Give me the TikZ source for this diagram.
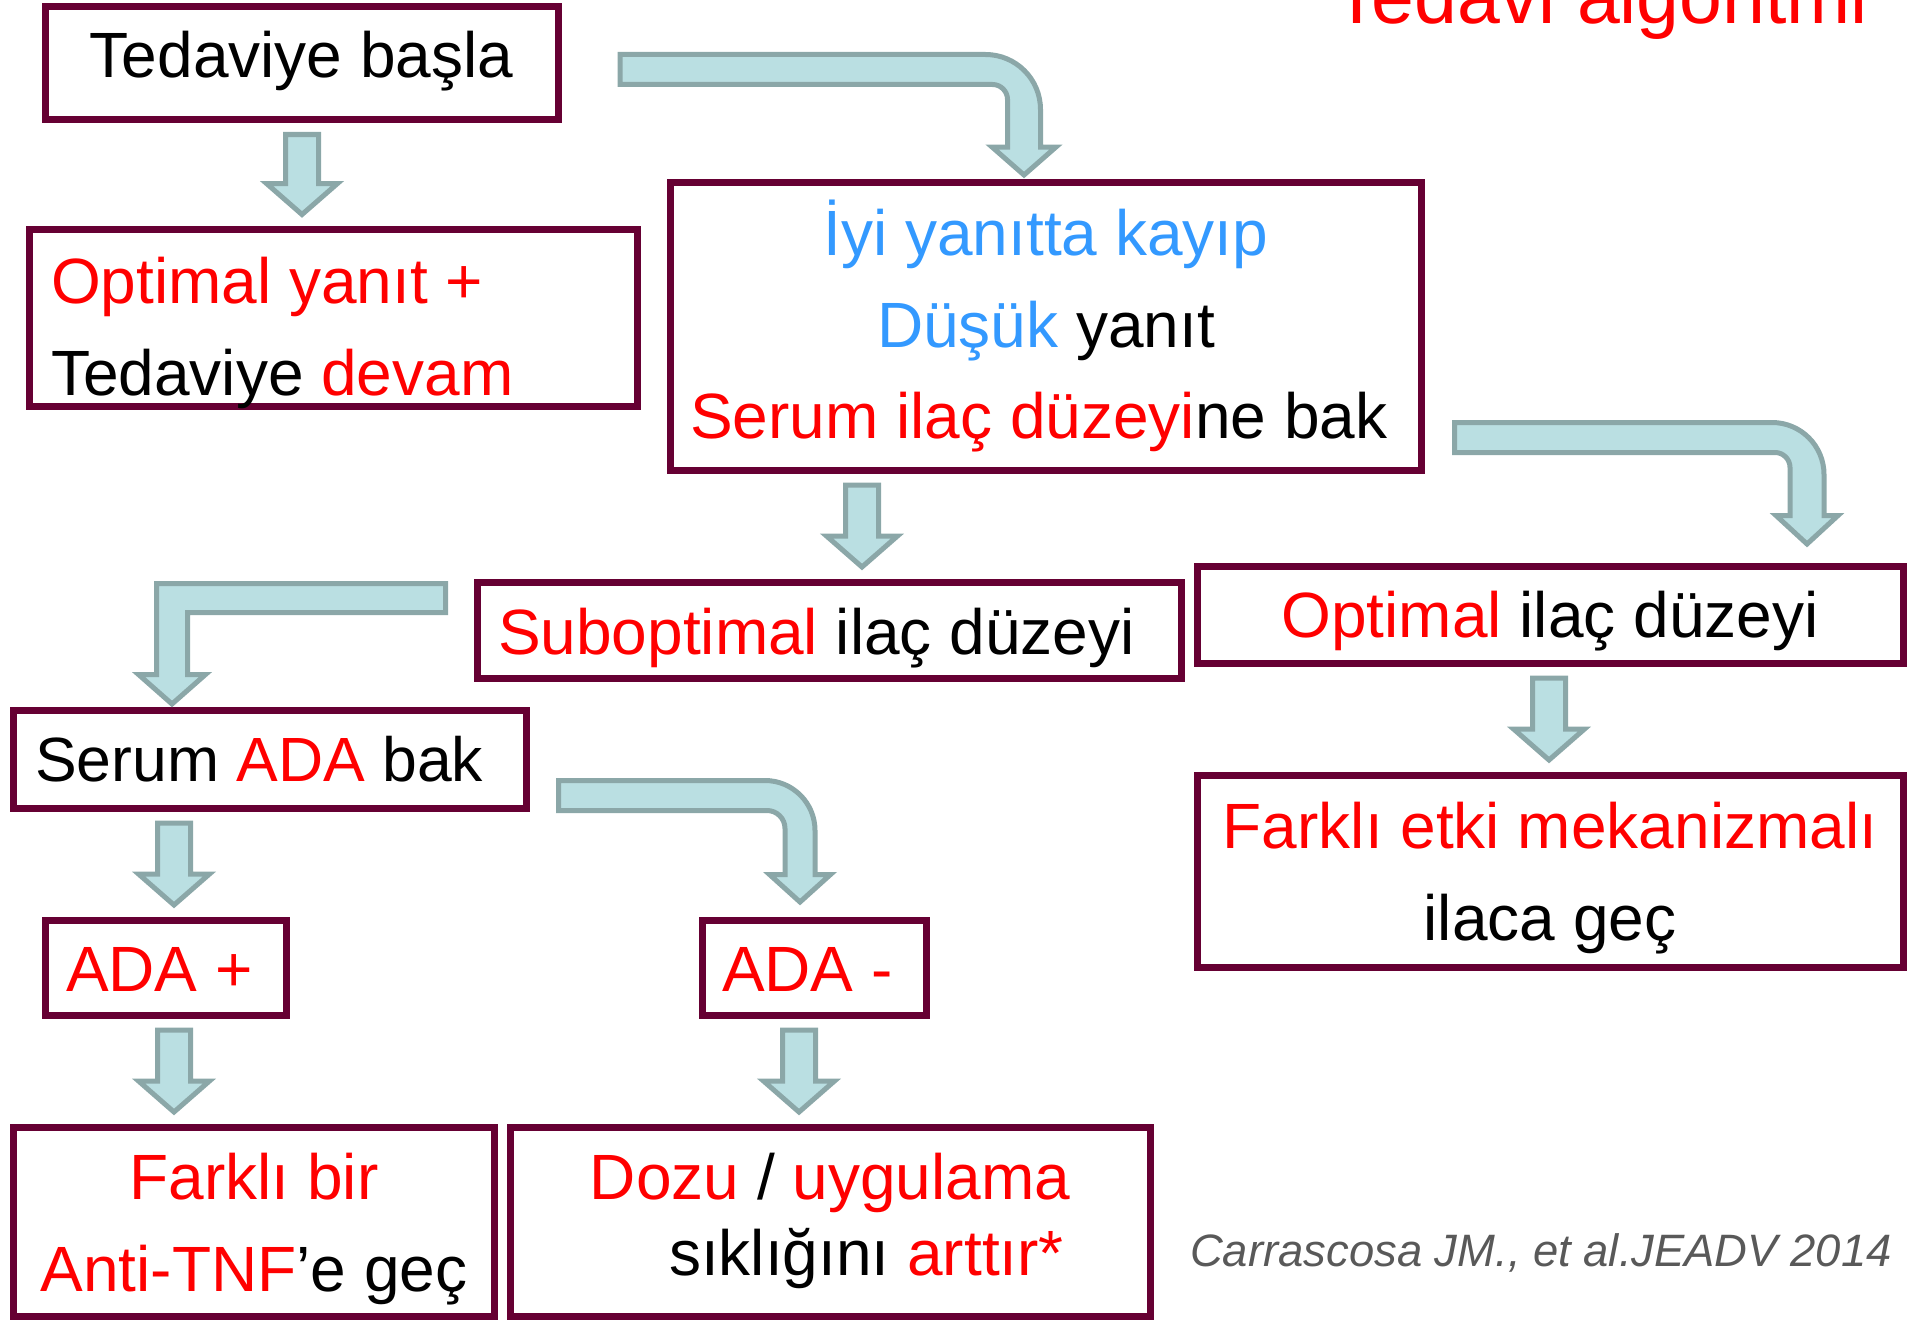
\documentclass[tikz,border=0pt]{standalone}
\usepackage{fontspec}
\setmainfont{Liberation Sans}
\usetikzlibrary{calc}
\definecolor{boxc}{HTML}{660033}
\definecolor{arrfill}{HTML}{BADFE2}
\definecolor{arrline}{HTML}{8BA7A8}
\definecolor{myred}{HTML}{FF0000}
\definecolor{myblue}{HTML}{3399FF}
\definecolor{citec}{HTML}{595959}
\newcommand\R[1]{\textcolor{myred}{#1}}
\newcommand\B[1]{\textcolor{myblue}{#1}}
\tikzset{
  box/.style={draw=boxc, line width=7pt, rectangle, inner sep=0pt, outer sep=0pt},
  txt/.style={inner sep=0pt, outer sep=0pt, font=\fontsize{64}{76}\selectfont, text=black},
  barrow/.style={fill=arrfill, draw=arrline, line width=5pt, line join=miter},
}
% straight down block arrow: #1 top-centre, #2 tip
\newcommand\downarr[2]{%
  \draw[barrow] let \p1=(#1), \p2=(#2) in
    (\x1-16.5pt,\y1) -- (\x1+16.5pt,\y1) -- (\x1+16.5pt,\y2+31pt) -- (\x1+35.5pt,\y2+31pt)
    -- (\x1,\y2) -- (\x1-35.5pt,\y2+31pt) -- (\x1-16.5pt,\y2+31pt) -- cycle;}
% bent block arrow: #1 tail (left end, shaft centre), #2 tip, #3 half shaft height,
% #4 half vertical shaft width, #5 outer radius, #6 inner radius, #7 half head width, #8 head length
\newcommand\bentarr[8]{%
  \draw[barrow] let \p1=(#1), \p2=(#2) in
    (\x1,\y1+#3pt) -- (\x2+#4pt-#5pt,\y1+#3pt)
    .. controls (\x2+#4pt-0.4477*#5pt,\y1+#3pt) and (\x2+#4pt,\y1+#3pt-0.4477*#5pt) .. (\x2+#4pt,\y1+#3pt-#5pt)
    -- (\x2+#4pt,\y2+#8pt) -- (\x2+#7pt,\y2+#8pt) -- (\x2,\y2) -- (\x2-#7pt,\y2+#8pt) -- (\x2-#4pt,\y2+#8pt)
    -- (\x2-#4pt,\y1-#3pt-#6pt)
    .. controls (\x2-#4pt,\y1-#3pt-0.4477*#6pt) and (\x2-#4pt-0.4477*#6pt,\y1-#3pt) .. (\x2-#4pt-#6pt,\y1-#3pt)
    -- (\x1,\y1-#3pt) -- cycle;}
\begin{document}
\begin{tikzpicture}[x=1pt,y=-1pt]
\useasboundingbox (0,0) rectangle (1910,1319);
% boxes
\node[box, minimum width=513, minimum height=113] (b1) at (301.5,63) {};
\node[box, minimum width=608, minimum height=176.5] (b2) at (333,317.75) {};
\node[box, minimum width=751, minimum height=288] (b3) at (1045.5,326) {};
\node[box, minimum width=704, minimum height=96] (b4) at (829,630) {};
\node[box, minimum width=706, minimum height=97] (b5) at (1550,614.5) {};
\node[box, minimum width=513, minimum height=98] (b6) at (269.5,759) {};
\node[box, minimum width=706, minimum height=192] (b7) at (1550,871) {};
\node[box, minimum width=241, minimum height=95] (b8) at (165.5,967.5) {};
\node[box, minimum width=224, minimum height=95] (b9) at (814,967.5) {};
\node[box, minimum width=480.5, minimum height=189] (b10) at (253.75,1221.5) {};
\node[box, minimum width=640, minimum height=189] (b11) at (830,1221.5) {};
% texts
\node[txt, anchor=base] (t1) at (301.5,78) {Tedaviye başla};
\node[txt, anchor=base west] (t2a) at (51,303) {\R{Optimal yanıt +}};
\node[txt, anchor=base west] (t2b) at (51,395) {Tedaviye \R{devam}};
\node[txt, anchor=base] (t3a) at (1046,255) {\B{İyi yanıtta kayıp}};
\node[txt, anchor=base] (t3b) at (1046,347) {\B{Düşük} yanıt};
\node[txt, anchor=base west] (t3c) at (690,438) {\R{Serum ilaç düzeyi}ne bak};
\node[txt, anchor=base west] (t4) at (498,654) {\R{Suboptimal} ilaç düzeyi};
\node[txt, anchor=base] (t5) at (1550,637) {\R{Optimal} ilaç düzeyi};
\node[txt, anchor=base west, font=\fontsize{62.5}{75}\selectfont] (t6) at (35,781) {Serum \R{ADA} bak};
\node[txt, anchor=base] (t7a) at (1550,848) {\R{Farklı etki mekanizmalı}};
\node[txt, anchor=base] (t7b) at (1550,940) {ilaca geç};
\node[txt, anchor=base west] (t8) at (66,991) {\R{ADA +}};
\node[txt, anchor=base west] (t9) at (722,991) {\R{ADA -}};
\node[txt, anchor=base] (t10a) at (254,1199) {\R{Farklı bir}};
\node[txt, anchor=base] (t10b) at (254,1291) {\R{Anti-TNF}’e geç};
\node[txt, anchor=base] (t11a) at (830,1199) {\R{Dozu} / \R{uygulama}};
\node[txt, anchor=base west] (t11b) at (669,1275) {sıklığını \R{arttır*}};
\node[inner sep=0pt, anchor=base west, font=\fontsize{77}{90}\selectfont, text=myred] (title) at (1333,24) {Tedavi algoritmi};
\node[inner sep=0pt, anchor=base west, font=\fontsize{45.4}{55}\selectfont\itshape, text=citec] (cite) at (1190,1266) {Carrascosa JM., et al.JEADV 2014};
% connector end points
\coordinate (a1s) at ($(b1.south)+(0.5,15)$);   \coordinate (a1e) at ($(b2.north)+(-31,-15)$);
\coordinate (a2s) at ($(b3.south)+(-183.5,15)$); \coordinate (a2e) at ($(b4.north)+(33,-15)$);
\coordinate (a3s) at ($(b5.south)+(-1,15)$);     \coordinate (a3e) at ($(b7.north)+(-1,-15)$);
\coordinate (a4s) at ($(b6.south)+(-95.5,15)$);  \coordinate (a4e) at ($(b8.north)+(8.5,-15)$);
\coordinate (a5s) at ($(b8.south)+(8.5,15)$);    \coordinate (a5e) at ($(b10.north)+(-79.75,-15)$);
\coordinate (a6s) at ($(b9.south)+(-15,15)$);    \coordinate (a6e) at ($(b11.north)+(-31,-15)$);
\coordinate (g0) at (620,69.5);    \coordinate (g1) at ($(b3.north)+(-21.5,-7)$);
\coordinate (h0) at (1454.5,437.5); \coordinate (h1) at ($(b5.north)+(257,-22)$);
\coordinate (j0) at (558.5,795.5); \coordinate (j1) at ($(b9.north)+(-14,-18)$);
\coordinate (i0) at (445.5,598);   \coordinate (i1) at ($(b6.north)+(-97.5,-6)$);
% straight arrows
\downarr{a1s}{a1e}
\downarr{a2s}{a2e}
\downarr{a3s}{a3e}
\downarr{a4s}{a4e}
\downarr{a5s}{a5e}
\downarr{a6s}{a6e}
% bent arrows
\bentarr{g0}{g1}{15}{16.5}{55}{15}{32}{28}
\bentarr{h0}{h1}{15}{17}{52}{15}{31}{28.5}
\bentarr{j0}{j1}{15}{15}{50}{18}{30.5}{27.5}
% L-shaped arrow
\draw[barrow] let \p1=(i0), \p2=(i1) in
  (\x1,\y1+14.5pt) -- (\x2-15.5pt,\y1+14.5pt) -- (\x2-15.5pt,\y2+29.5pt) -- (\x2-33.5pt,\y2+29.5pt)
  -- (\x2,\y2) -- (\x2+33.5pt,\y2+29.5pt) -- (\x2+15.5pt,\y2+29.5pt) -- (\x2+15.5pt,\y1-14.5pt)
  -- (\x1,\y1-14.5pt) -- cycle;
\end{tikzpicture}
\end{document}
